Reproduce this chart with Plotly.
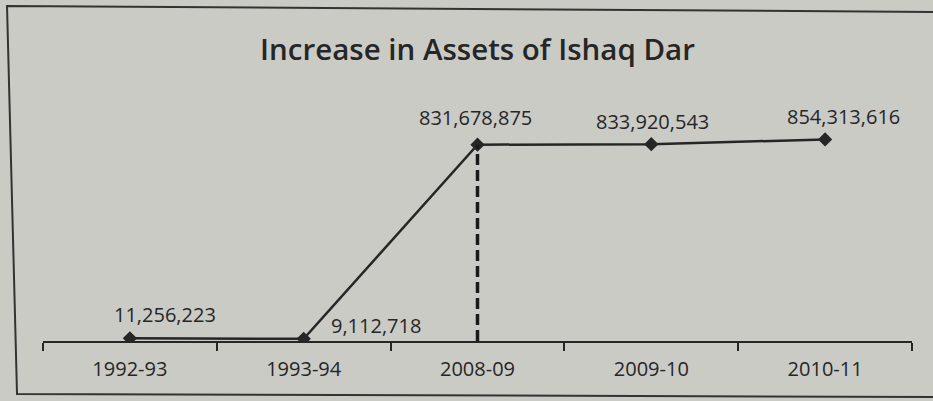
import plotly.graph_objects as go

# Declared assets by year (rupees)
years = ["1992-93", "1993-94", "2008-09", "2009-10", "2010-11"]
assets = [11256223, 9112718, 831678875, 833920543, 854313616]

# Pixel offsets of each value label from its marker
label_dx = [35, 72, -2, 1, 18]
label_dy = [24, 13, 27, 23, 23]

W, H = 933, 401
ML, MR, MT, MB = 43, 21, 105, 60
PW, PH = W - ML - MR, H - MT - MB

INK = "#262626"
BG = "#cbcbc6"
FONT = "'Open Sans', Lato, sans-serif"


def px_to_paper(px, py):
    return (px - ML) / PW, (H - MB - py) / PH


fig = go.Figure()

fig.add_trace(go.Scatter(
    x=years, y=assets,
    mode="lines+markers",
    line=dict(color=INK, width=2.5),
    marker=dict(symbol="diamond", size=11, color=INK),
    hoverinfo="skip",
    showlegend=False,
))

# Dashed drop line from the 2008-09 value to the axis
fig.add_shape(type="line", xref="x", yref="y",
              x0=2, x1=2, y0=0, y1=assets[2],
              line=dict(color="#1a1a1a", width=3.5, dash="11px,5px"))

for yr, v, dx, dy in zip(years, assets, label_dx, label_dy):
    fig.add_annotation(x=yr, y=v, xref="x", yref="y",
                       text=f"{v:,}", showarrow=False,
                       xshift=dx, yshift=dy,
                       font=dict(family=FONT, size=20, color=INK))

# Outer frame of the chart area
pts = [(945, 12), (7, 6), (17, 394), (945, 397)]
pp = [px_to_paper(x, y) for x, y in pts]
path = "M " + " L ".join(f"{x:.4f},{y:.4f}" for x, y in pp)
fig.add_shape(type="path", xref="paper", yref="paper", path=path,
              line=dict(color="#333333", width=2), layer="below")

fig.update_layout(
    width=W, height=H,
    margin=dict(l=ML, r=MR, t=MT, b=MB),
    paper_bgcolor=BG, plot_bgcolor=BG,
    title=dict(text="Increase in Assets of Ishaq Dar",
               x=0.5, xref="paper", xanchor="center",
               y=1 - 50 / H, yref="container", yanchor="middle",
               font=dict(family=FONT, size=29.5, color=INK, weight=600)),
    xaxis=dict(type="category", range=[-0.5, 4.5],
               showline=True, linecolor=INK, linewidth=2,
               ticks="outside", tickson="boundaries", ticklen=8,
               tickcolor=INK, tickwidth=2,
               ticklabelstandoff=9,
               showgrid=False, zeroline=False,
               tickfont=dict(family=FONT, size=20, color=INK)),
    yaxis=dict(range=[0, 1e9], visible=False,
               showgrid=False, zeroline=False),
)

fig.write_html("out.html")
